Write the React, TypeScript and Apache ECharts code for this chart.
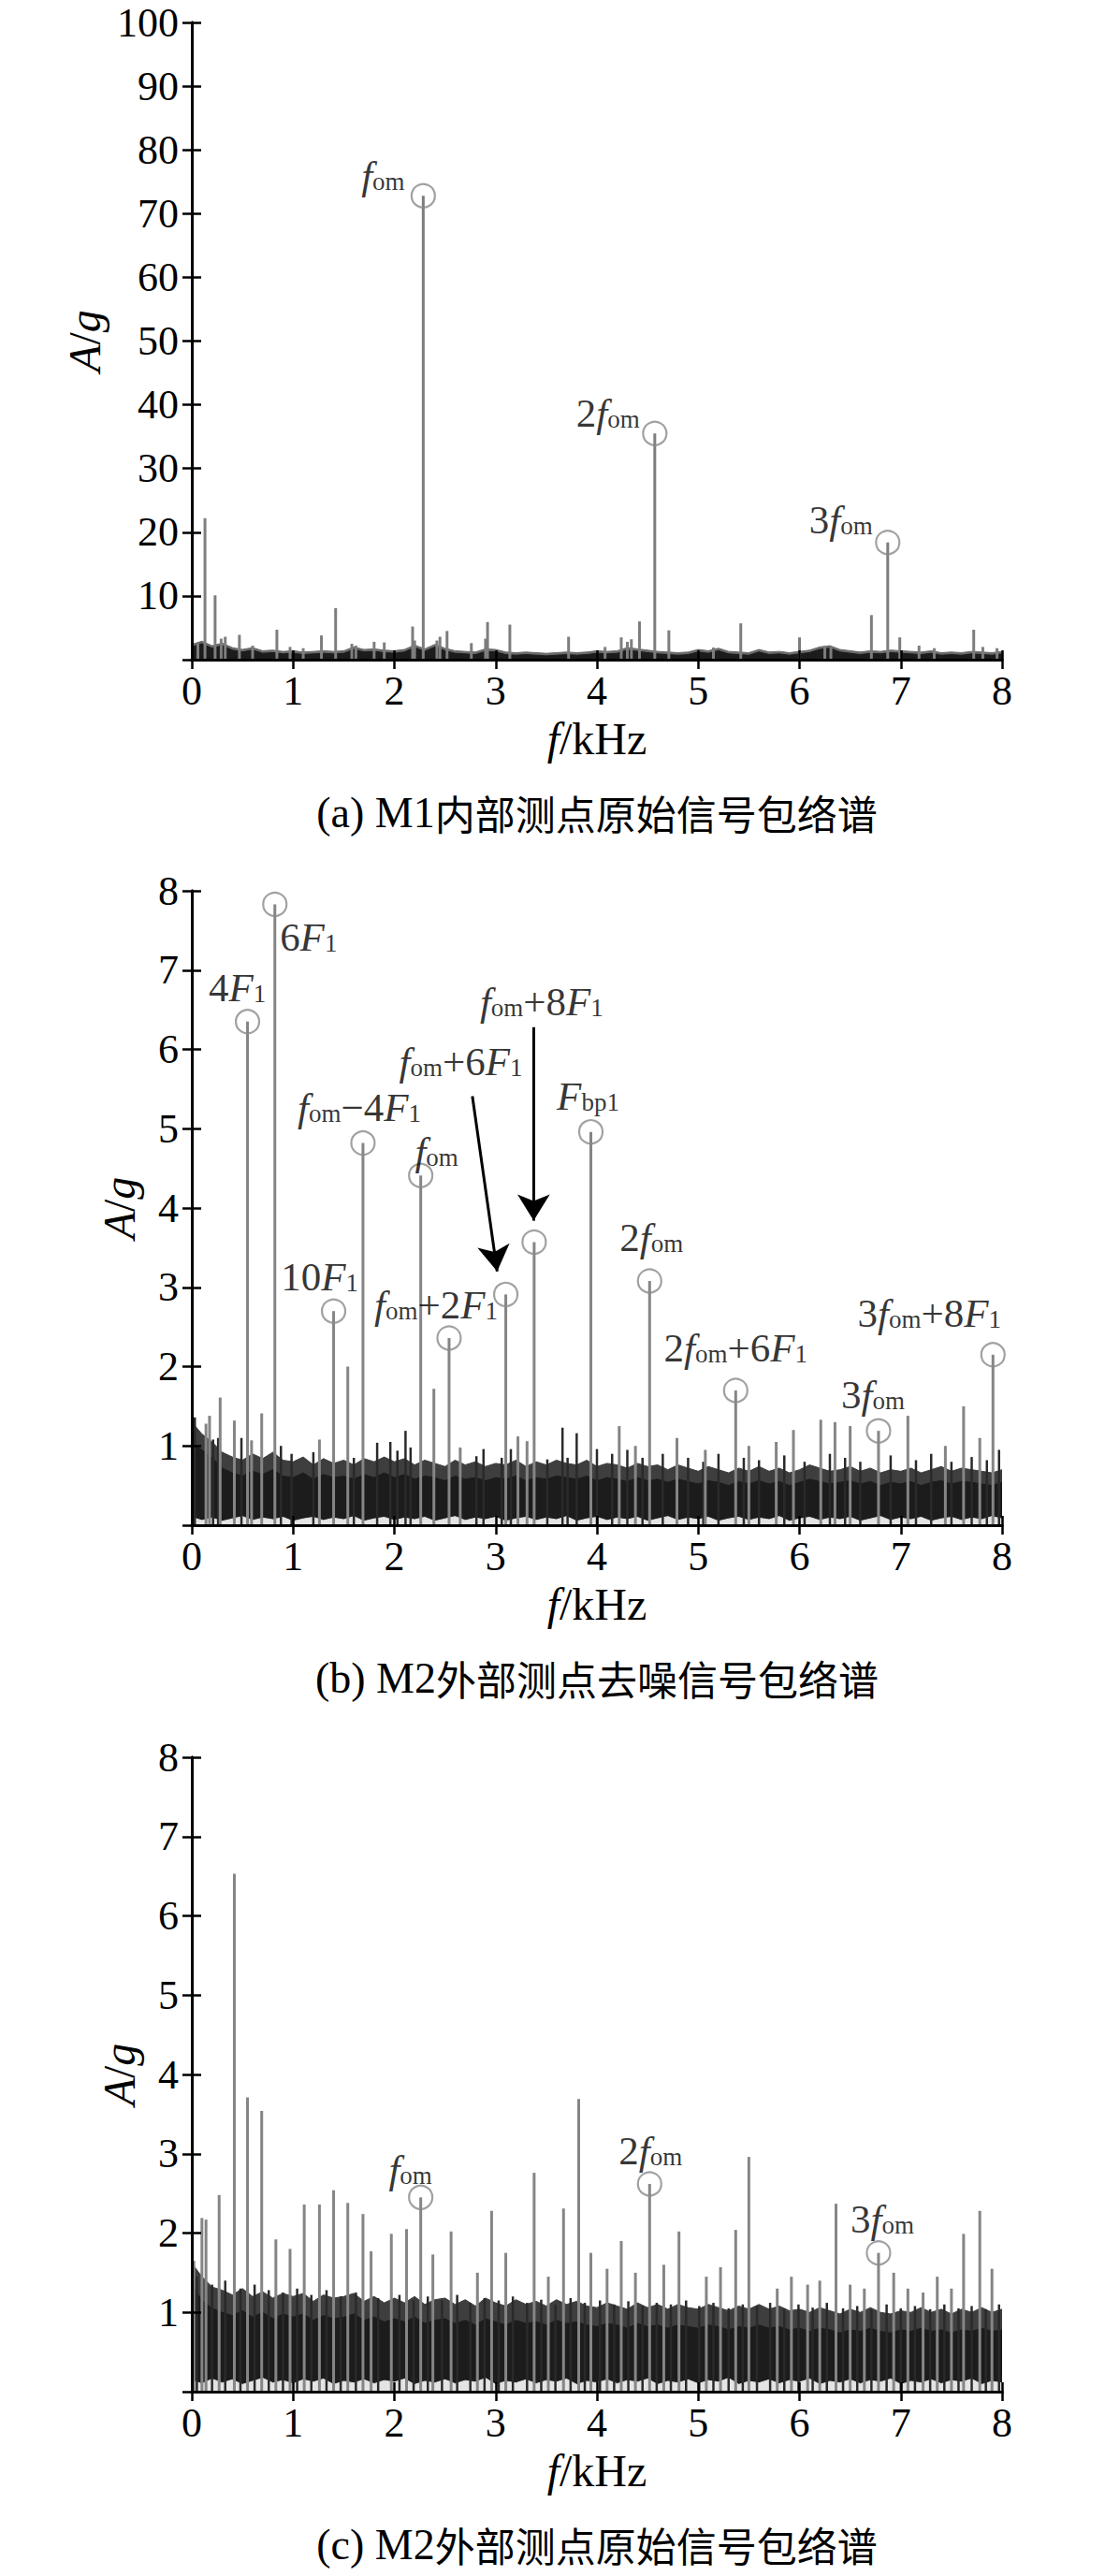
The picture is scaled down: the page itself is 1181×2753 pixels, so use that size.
import React, { useEffect, useRef } from "react";
import * as echarts from "echarts";

const SERIF = '"Liberation Serif", "Times New Roman", serif';
const CJK = '"Noto Sans CJK SC", sans-serif';

// envelope frequency grid (kHz)
const envX = [
  0, 0.1, 0.2, 0.3, 0.4, 0.5, 0.6, 0.7, 0.8, 0.9,
  1.0, 1.1, 1.2, 1.3, 1.4, 1.5, 1.6, 1.7, 1.8, 1.9,
  2.0, 2.1, 2.2, 2.3, 2.4, 2.5, 2.6, 2.7, 2.8, 2.9,
  3.0, 3.1, 3.2, 3.3, 3.4, 3.5, 3.6, 3.7, 3.8, 3.9,
  4.0, 4.1, 4.2, 4.3, 4.4, 4.5, 4.6, 4.7, 4.8, 4.9,
  5.0, 5.1, 5.2, 5.3, 5.4, 5.5, 5.6, 5.7, 5.8, 5.9,
  6.0, 6.1, 6.2, 6.3, 6.4, 6.5, 6.6, 6.7, 6.8, 6.9,
  7.0, 7.1, 7.2, 7.3, 7.4, 7.5, 7.6, 7.7, 7.8, 7.9, 8.0,
];

// ---------- (a) M1 internal, raw ----------
const aDarkTop = [
  2.0, 2.5, 1.8, 2.2, 1.5, 1.2, 1.5, 1.0, 1.1, 0.9,
  1.0, 0.8, 0.9, 1.0, 0.9, 1.0, 1.6, 1.2, 1.3, 1.1,
  1.0, 1.2, 1.9, 1.3, 2.0, 1.4, 1.0, 0.9, 0.8, 1.3,
  1.2, 0.8, 0.7, 0.8, 0.7, 0.6, 0.7, 0.8, 0.7, 0.8,
  1.0, 0.9, 1.0, 1.5, 1.3, 1.1, 0.9, 0.8, 0.7, 0.8,
  1.2, 1.0, 1.4, 0.9, 0.8, 0.7, 1.2, 0.8, 0.9, 0.7,
  0.9, 1.1, 1.6, 1.8, 1.2, 1.0, 0.8, 1.0, 0.9, 1.1,
  1.0, 0.9, 0.8, 1.0, 0.7, 0.8, 0.7, 0.9, 0.8, 0.7, 0.9,
];
const aGrayTop = [
  2.4, 2.9, 2.2, 2.6, 1.9, 1.6, 1.9, 1.4, 1.5, 1.3,
  1.4, 1.2, 1.3, 1.4, 1.3, 1.4, 2.0, 1.6, 1.7, 1.5,
  1.4, 1.6, 2.3, 1.7, 2.4, 1.8, 1.4, 1.3, 1.2, 1.7,
  1.6, 1.2, 1.1, 1.2, 1.1, 1.0, 1.1, 1.2, 1.1, 1.2,
  1.4, 1.3, 1.4, 1.9, 1.7, 1.5, 1.3, 1.2, 1.1, 1.2,
  1.6, 1.4, 1.8, 1.3, 1.2, 1.1, 1.6, 1.2, 1.3, 1.1,
  1.3, 1.5, 2.0, 2.2, 1.6, 1.4, 1.2, 1.4, 1.3, 1.5,
  1.4, 1.3, 1.2, 1.4, 1.1, 1.2, 1.1, 1.3, 1.2, 1.1, 1.3,
];
const aSpikeX = [
  0.06, 0.13, 0.23, 0.29, 0.33, 0.47, 0.6, 0.84, 0.97, 1.1,
  1.28, 1.42, 1.58, 1.62, 1.8, 1.9, 2.18, 2.2, 2.285, 2.42,
  2.45, 2.52, 2.76, 2.9, 2.92, 3.14, 3.72, 4.08, 4.24, 4.3,
  4.34, 4.42, 4.571, 4.71, 5.15, 5.42, 6.0, 6.25, 6.31, 6.71,
  6.871, 6.99, 7.18, 7.33, 7.72, 7.81, 7.95,
];
const aSpikeV = [
  2.5, 22.2, 10.1, 3.3, 3.6, 3.9, 2.2, 4.7, 2.0, 1.8,
  3.8, 8.1, 2.5, 2.2, 2.8, 2.7, 5.2, 3.0, 72.8, 3.0,
  3.6, 4.5, 2.6, 3.3, 5.9, 5.5, 3.6, 2.0, 3.5, 2.8,
  3.2, 6.0, 35.5, 4.6, 1.9, 5.7, 3.5, 2.2, 2.0, 7.0,
  18.4, 3.5, 2.2, 1.8, 4.7, 2.0, 1.8,
];
const aPeakX = [2.285, 4.571, 6.871];
const aPeakV = [72.8, 35.5, 18.4];
const aPeakLabel = ["{i|f}{s|om}", "{n|2}{i|f}{s|om}", "{n|3}{i|f}{s|om}"];

// ---------- (b) M2 external, denoised ----------
const bDarkTop = [
  1.02, 0.95, 0.85, 0.72, 0.66, 0.62, 0.68, 0.64, 0.70, 0.62,
  0.60, 0.66, 0.58, 0.64, 0.60, 0.62, 0.58, 0.64, 0.60, 0.66,
  0.60, 0.64, 0.58, 0.62, 0.60, 0.56, 0.62, 0.58, 0.60, 0.56,
  0.60, 0.58, 0.62, 0.56, 0.60, 0.58, 0.62, 0.60, 0.58, 0.62,
  0.56, 0.60, 0.58, 0.55, 0.60, 0.56, 0.58, 0.54, 0.58, 0.55,
  0.52, 0.56, 0.54, 0.50, 0.55, 0.52, 0.56, 0.52, 0.55, 0.50,
  0.54, 0.58, 0.55, 0.52, 0.54, 0.56, 0.52, 0.55, 0.50, 0.54,
  0.52, 0.55, 0.50, 0.54, 0.56, 0.52, 0.55, 0.54, 0.52, 0.50, 0.54,
];
const bGrayTop = [
  1.30, 1.15, 1.05, 0.92, 0.86, 0.82, 0.90, 0.84, 0.92, 0.82,
  0.80, 0.86, 0.76, 0.84, 0.78, 0.82, 0.76, 0.84, 0.80, 0.86,
  0.80, 0.84, 0.76, 0.82, 0.78, 0.74, 0.82, 0.76, 0.80, 0.74,
  0.78, 0.76, 0.82, 0.74, 0.80, 0.76, 0.82, 0.78, 0.76, 0.82,
  0.74, 0.78, 0.76, 0.72, 0.78, 0.74, 0.76, 0.70, 0.76, 0.72,
  0.68, 0.74, 0.70, 0.66, 0.72, 0.68, 0.74, 0.68, 0.72, 0.66,
  0.70, 0.76, 0.72, 0.68, 0.70, 0.74, 0.68, 0.72, 0.66, 0.70,
  0.68, 0.72, 0.66, 0.70, 0.74, 0.68, 0.72, 0.70, 0.68, 0.66, 0.70,
];
const bLow = [
  0.10, 0.06, 0.09, 0.05, 0.08, 0.11, 0.06, 0.09, 0.07, 0.10,
  0.05, 0.08, 0.10, 0.06, 0.09, 0.07, 0.11, 0.05, 0.08, 0.10,
  0.06, 0.09, 0.07, 0.10, 0.05, 0.08, 0.11, 0.06, 0.09, 0.07,
  0.10, 0.05, 0.08, 0.10, 0.06, 0.09, 0.07, 0.11, 0.05, 0.08,
  0.10, 0.06, 0.09, 0.07, 0.10, 0.05, 0.08, 0.11, 0.06, 0.09,
  0.07, 0.10, 0.05, 0.08, 0.10, 0.06, 0.09, 0.07, 0.11, 0.05,
  0.08, 0.10, 0.06, 0.09, 0.07, 0.10, 0.05, 0.08, 0.11, 0.06,
  0.09, 0.07, 0.10, 0.05, 0.08, 0.10, 0.06, 0.09, 0.07, 0.11, 0.08,
];
const bSpikeX = [
  0.14, 0.175, 0.28, 0.42, 0.55, 0.59, 0.69, 0.82, 1.26, 1.40,
  1.54, 1.69, 2.26, 2.39, 2.54, 2.65, 3.10, 3.22, 3.31, 3.38,
  3.94, 4.22, 4.38, 4.52, 4.79, 5.07, 5.37, 5.50, 5.77, 5.94,
  6.21, 6.35, 6.50, 6.78, 7.07, 7.44, 7.62, 7.78, 7.91,
];
const bSpikeV = [
  1.28, 1.38, 1.61, 1.32, 6.35, 1.07, 1.41, 7.83, 1.08, 2.70,
  2.00, 4.82, 4.41, 1.72, 2.36, 0.98, 2.91, 1.12, 1.06, 3.57,
  4.96, 1.25, 1.00, 3.08, 1.10, 0.95, 1.70, 1.00, 1.05, 1.20,
  1.33, 1.30, 1.25, 1.19, 1.38, 1.00, 1.50, 1.10, 2.15,
];
const bDarkSpikeX = [
  0.03, 0.21, 0.26, 0.49, 0.88, 0.985, 1.2, 1.6, 1.83, 1.96,
  2.03, 2.11, 2.16, 2.81, 2.88, 3.06, 3.15, 3.51, 3.66, 3.71,
  3.80, 4.0, 4.15, 4.3, 4.45, 4.65, 4.9, 5.05, 5.2, 5.45,
  5.6, 5.85, 6.05, 6.3, 6.45, 6.6, 6.9, 7.15, 7.3, 7.5,
  7.7, 7.85, 7.97,
];
const bDarkSpikeV = [
  1.36, 1.08, 1.10, 1.10, 1.00, 0.90, 0.92, 0.85, 1.04, 1.05,
  0.94, 1.19, 0.98, 0.87, 0.96, 0.85, 0.96, 0.83, 1.23, 0.85,
  1.16, 0.96, 0.90, 0.95, 0.85, 0.90, 0.85, 0.80, 0.90, 0.85,
  0.82, 0.88, 0.80, 0.90, 0.85, 0.80, 0.88, 0.82, 0.90, 0.80,
  0.86, 0.82, 0.95,
];
const bPeakX = [0.55, 0.82, 1.40, 1.69, 2.26, 2.54, 3.10, 3.38, 3.94, 4.52, 5.37, 6.78, 7.91];
const bPeakV = [6.35, 7.83, 2.70, 4.82, 4.41, 2.36, 2.91, 3.57, 4.96, 3.08, 1.70, 1.19, 2.15];
const bPeakLabel = [
  "{n|4}{i|F}{s|1}",
  "{n|6}{i|F}{s|1}",
  "{n|10}{i|F}{s|1}",
  "{i|f}{s|om}{n|−4}{i|F}{s|1}",
  "{i|f}{s|om}",
  "{i|f}{s|om}{n|+2}{i|F}{s|1}",
  "{i|f}{s|om}{n|+6}{i|F}{s|1}",
  "{i|f}{s|om}{n|+8}{i|F}{s|1}",
  "{i|F}{s|bp1}",
  "{n|2}{i|f}{s|om}",
  "{n|2}{i|f}{s|om}{n|+6}{i|F}{s|1}",
  "{n|3}{i|f}{s|om}",
  "{n|3}{i|f}{s|om}{n|+8}{i|F}{s|1}",
];
// arrows: [start x, start y, end x, end y]
const bArrows = [
  [2.77, 5.41, 3.015, 3.2],
  [3.375, 6.28, 3.375, 3.84],
];

// ---------- (c) M2 external, raw ----------
const cDarkTop = [
  1.35, 1.15, 1.05, 1.00, 0.96, 1.02, 0.94, 1.00, 0.92, 0.98,
  0.94, 0.98, 0.90, 0.96, 0.92, 0.94, 0.98, 0.90, 0.94, 0.88,
  0.92, 0.88, 0.94, 0.86, 0.90, 0.92, 0.86, 0.90, 0.84, 0.92,
  0.88, 0.84, 0.90, 0.86, 0.88, 0.84, 0.90, 0.86, 0.88, 0.84,
  0.82, 0.86, 0.84, 0.80, 0.86, 0.82, 0.84, 0.80, 0.84, 0.82,
  0.80, 0.84, 0.82, 0.78, 0.82, 0.80, 0.84, 0.80, 0.82, 0.78,
  0.80, 0.76, 0.80, 0.78, 0.74, 0.78, 0.76, 0.80, 0.76, 0.74,
  0.78, 0.76, 0.80, 0.76, 0.78, 0.74, 0.78, 0.76, 0.80, 0.76, 0.78,
];
const cGrayTop = [
  1.62, 1.45, 1.32, 1.28, 1.22, 1.30, 1.20, 1.26, 1.18, 1.24,
  1.20, 1.24, 1.14, 1.22, 1.18, 1.20, 1.24, 1.14, 1.20, 1.12,
  1.18, 1.12, 1.20, 1.10, 1.16, 1.18, 1.10, 1.16, 1.08, 1.18,
  1.12, 1.08, 1.16, 1.10, 1.14, 1.08, 1.16, 1.10, 1.14, 1.08,
  1.06, 1.12, 1.08, 1.04, 1.12, 1.06, 1.10, 1.04, 1.10, 1.06,
  1.04, 1.10, 1.06, 1.02, 1.08, 1.04, 1.10, 1.04, 1.08, 1.02,
  1.04, 1.00, 1.06, 1.02, 0.98, 1.04, 1.00, 1.06, 1.00, 0.98,
  1.02, 1.00, 1.06, 1.00, 1.04, 0.98, 1.04, 1.00, 1.06, 1.00, 1.04,
];
const cLow = [
  0.14, 0.10, 0.16, 0.11, 0.15, 0.09, 0.13, 0.17, 0.11, 0.14,
  0.10, 0.15, 0.12, 0.16, 0.09, 0.13, 0.11, 0.15, 0.10, 0.14,
  0.12, 0.16, 0.09, 0.13, 0.11, 0.15, 0.10, 0.14, 0.12, 0.17,
  0.09, 0.13, 0.11, 0.15, 0.10, 0.14, 0.12, 0.16, 0.09, 0.13,
  0.11, 0.15, 0.10, 0.14, 0.12, 0.16, 0.09, 0.13, 0.11, 0.15,
  0.10, 0.14, 0.12, 0.17, 0.09, 0.13, 0.11, 0.15, 0.10, 0.14,
  0.12, 0.16, 0.09, 0.13, 0.11, 0.15, 0.10, 0.14, 0.12, 0.16,
  0.09, 0.13, 0.11, 0.15, 0.10, 0.14, 0.12, 0.16, 0.09, 0.13, 0.11,
];
const cSpikeX = [
  0.02, 0.10, 0.14, 0.27, 0.42, 0.55, 0.69, 0.83, 0.97, 1.11,
  1.26, 1.40, 1.54, 1.69, 1.77, 1.97, 2.12, 2.26, 2.38, 2.56,
  2.82, 2.96, 3.10, 3.38, 3.52, 3.67, 3.82, 3.94, 4.10, 4.24,
  4.38, 4.52, 4.66, 4.81, 5.08, 5.22, 5.37, 5.50, 5.78, 5.92,
  6.08, 6.20, 6.36, 6.50, 6.64, 6.78, 6.93, 7.07, 7.22, 7.36,
  7.50, 7.62, 7.78, 7.90,
];
const cSpikeV = [
  1.65, 2.19, 2.17, 2.48, 6.53, 3.71, 3.54, 1.92, 1.80, 2.36,
  2.36, 2.54, 2.38, 2.24, 1.77, 1.99, 2.05, 2.45, 1.73, 2.02,
  1.50, 2.28, 1.75, 2.76, 1.45, 2.31, 3.69, 1.75, 1.55, 1.90,
  1.50, 2.62, 1.60, 2.02, 1.45, 1.57, 2.04, 2.96, 1.30, 1.45,
  1.35, 1.40, 2.37, 1.35, 1.30, 1.75, 1.50, 1.30, 1.25, 1.45,
  1.30, 1.99, 2.28, 1.55,
];
const cDarkSpikeX = [
  0.05, 0.2, 0.33, 0.48, 0.62, 0.76, 0.9, 1.04, 1.18, 1.33,
  1.47, 1.62, 1.84, 2.05, 2.19, 2.33, 2.47, 2.62, 2.75, 2.89,
  3.03, 3.17, 3.31, 3.45, 3.59, 3.74, 3.88, 4.03, 4.17, 4.31,
  4.45, 4.59, 4.73, 4.88, 5.01, 5.15, 5.3, 5.44, 5.58, 5.71,
  5.85, 5.99, 6.13, 6.27, 6.43, 6.57, 6.71, 6.86, 7.0, 7.14,
  7.29, 7.43, 7.57, 7.7, 7.84, 7.97,
];
const cDarkSpikeV = [
  1.45, 1.35, 1.40, 1.30, 1.35, 1.28, 1.25, 1.30, 1.22, 1.28,
  1.20, 1.25, 1.18, 1.22, 1.15, 1.20, 1.15, 1.22, 1.12, 1.18,
  1.15, 1.20, 1.12, 1.16, 1.10, 1.18, 1.12, 1.15, 1.10, 1.14,
  1.08, 1.12, 1.10, 1.15, 1.08, 1.12, 1.05, 1.10, 1.08, 1.12,
  1.05, 1.10, 1.06, 1.12, 1.05, 1.08, 1.04, 1.10, 1.05, 1.08,
  1.04, 1.10, 1.05, 1.08, 1.04, 1.10,
];
const cPeakX = [2.26, 4.52, 6.78];
const cPeakV = [2.45, 2.62, 1.75];
const cPeakLabel = ["{i|f}{s|om}", "{n|2}{i|f}{s|om}", "{n|3}{i|f}{s|om}"];

const xTicks = [0, 1, 2, 3, 4, 5, 6, 7, 8];
const captions = [
  ["(a) M1", "内部测点原始信号包络谱"],
  ["(b) M2", "外部测点去噪信号包络谱"],
  ["(c) M2", "外部测点原始信号包络谱"],
];

// ---------- layout (pixels) ----------
const PLOT_LEFT = 205;
const PLOT_WIDTH = 866;
const PANELS = [
  { top: 24, height: 681, yMax: 100, yInt: 10, nameGap: 78, caption: 868 },
  { top: 952, height: 678, yMax: 8, yInt: 1, nameGap: 54, caption: 1793 },
  { top: 1878, height: 678, yMax: 8, yInt: 1, nameGap: 54, caption: 2719 },
];
const aOffsets = [[-43, -22], [-50, -22], [-50, -24]];
const bOffsets = [
  [-11, -36], [36, 35], [-15, -37], [-4, -38], [17, -26], [-14, -35],
  [-48, -249], [8, -257], [-3, -38], [2, -46], [0, -45], [-6, -39], [-68, -44],
];
const cOffsets = [[-11, -30], [1, -35], [4, -36]];

const annRich = {
  i: { fontFamily: SERIF, fontStyle: "italic", fontSize: 43, lineHeight: 40, color: "#000" },
  n: { fontFamily: SERIF, fontSize: 43, lineHeight: 40, color: "#000" },
  s: { fontFamily: SERIF, fontSize: 27, lineHeight: 27, verticalAlign: "bottom", color: "#000" },
};

const pairs = (xs: number[], ys: number[]) => xs.map((x, i) => [x, ys[i]]);

function areaSeries(g: number, ys: number[], color: string) {
  return {
    type: "line",
    xAxisIndex: 2 * g,
    yAxisIndex: 2 * g,
    data: pairs(envX, ys),
    symbol: "none",
    silent: true,
    lineStyle: { color, width: 1 },
    areaStyle: { color, opacity: 1 },
    z: 2,
  };
}

function spikeSeries(g: number, xs: number[], vs: number[], color: string, width: number) {
  return {
    type: "custom",
    xAxisIndex: 2 * g,
    yAxisIndex: 2 * g,
    data: pairs(xs, vs),
    encode: { x: 0, y: 1 },
    silent: true,
    clip: true,
    z: 3,
    renderItem: (_params: any, api: any) => {
      const x = api.value(0);
      const p0 = api.coord([x, 0]);
      const p1 = api.coord([x, api.value(1)]);
      return {
        type: "line",
        shape: { x1: p0[0], y1: p0[1], x2: p1[0], y2: p1[1] },
        style: { stroke: color, lineWidth: width },
      };
    },
  };
}

function peakSeries(g: number, xs: number[], vs: number[], labels: string[], offs: number[][], extra: any = {}) {
  return {
    type: "scatter",
    xAxisIndex: 2 * g,
    yAxisIndex: 2 * g,
    symbol: "circle",
    symbolSize: 25,
    silent: true,
    itemStyle: { color: "rgba(0,0,0,0)", borderColor: "#8a8a8a", borderWidth: 2.2 },
    data: xs.map((x, i) => ({
      value: [x, vs[i]],
      label: {
        show: true,
        position: "inside",
        offset: offs[i],
        formatter: labels[i],
        rich: annRich,
        align: "center",
        verticalAlign: "middle",
      },
    })),
    z: 5,
    ...extra,
  };
}

export default function App() {
  const ref = useRef<HTMLDivElement>(null);
  useEffect(() => {
    if (!ref.current) return;
    const chart = echarts.init(ref.current, undefined, { renderer: "svg" });

    const grid = PANELS.map((p) => ({ left: PLOT_LEFT, width: PLOT_WIDTH, top: p.top, height: p.height }));
    const axisLine = { show: true, lineStyle: { color: "#000", width: 3 } };
    const axisTick = { show: true, inside: true, length: 10, lineStyle: { color: "#000", width: 2.5 } };
    const nameRich = {
      i: { fontFamily: SERIF, fontStyle: "italic", fontSize: 48, color: "#000" },
      n: { fontFamily: SERIF, fontSize: 48, color: "#000" },
    };

    const xAxis: any[] = [];
    const yAxis: any[] = [];
    PANELS.forEach((p, g) => {
      xAxis.push({
        type: "value", gridIndex: g, min: xTicks[0], max: xTicks[xTicks.length - 1], interval: 1,
        position: "bottom", z: 10, axisLine, axisTick, splitLine: { show: false },
        axisLabel: { color: "#000", fontFamily: SERIF, fontSize: 44, margin: 11 },
        name: "{i|f}{n|/kHz}", nameLocation: "middle", nameGap: 60,
        nameTextStyle: { rich: nameRich },
      });
      xAxis.push({
        type: "value", gridIndex: g, min: xTicks[0], max: xTicks[xTicks.length - 1], interval: 1,
        position: "top", z: 10, axisLine, axisTick, splitLine: { show: false }, axisLabel: { show: false },
      });
      yAxis.push({
        type: "value", gridIndex: g, min: 0, max: p.yMax, interval: p.yInt,
        position: "left", z: 10, axisLine, axisTick, splitLine: { show: false },
        axisLabel: {
          color: "#000", fontFamily: SERIF, fontSize: 44, margin: 14,
          formatter: (v: number) => (v === 0 ? "" : String(v)),
        },
        name: "{i|A}{n|/}{i|g}", nameLocation: "middle", nameGap: p.nameGap,
        nameTextStyle: { rich: nameRich },
      });
      yAxis.push({
        type: "value", gridIndex: g, min: 0, max: p.yMax, interval: p.yInt,
        position: "right", z: 10, axisLine, axisTick, splitLine: { show: false }, axisLabel: { show: false },
      });
    });

    const series: any[] = [
      areaSeries(0, aGrayTop, "#6a6a6a"),
      areaSeries(0, aDarkTop, "#1c1c1c"),
      spikeSeries(0, aSpikeX, aSpikeV, "#7d7d7d", 3),
      peakSeries(0, aPeakX, aPeakV, aPeakLabel, aOffsets),

      areaSeries(1, bGrayTop, "#3e3e3e"),
      areaSeries(1, bDarkTop, "#1c1c1c"),
      areaSeries(1, bLow, "#e4e4e4"),
      spikeSeries(1, bDarkSpikeX, bDarkSpikeV, "#2a2a2a", 2.5),
      spikeSeries(1, bSpikeX, bSpikeV, "#858585", 3),
      peakSeries(1, bPeakX, bPeakV, bPeakLabel, bOffsets, {
        markLine: {
          silent: true,
          symbol: ["none", "arrow"],
          symbolSize: [26, 28],
          lineStyle: { color: "#000", width: 3, type: "solid" },
          label: { show: false },
          animation: false,
          data: bArrows.map((a) => [{ coord: [a[0], a[1]] }, { coord: [a[2], a[3]] }]),
        },
      }),

      areaSeries(2, cGrayTop, "#3e3e3e"),
      areaSeries(2, cDarkTop, "#1c1c1c"),
      areaSeries(2, cLow, "#e4e4e4"),
      spikeSeries(2, cDarkSpikeX, cDarkSpikeV, "#2a2a2a", 2.5),
      spikeSeries(2, cSpikeX, cSpikeV, "#858585", 3),
      peakSeries(2, cPeakX, cPeakV, cPeakLabel, cOffsets),
    ];

    const graphic = PANELS.map((p, g) => ({
      type: "text",
      x: PLOT_LEFT + PLOT_WIDTH / 2,
      y: p.caption,
      silent: true,
      style: {
        text: `{l|${captions[g][0]}}{c|${captions[g][1]}}`,
        align: "center",
        verticalAlign: "middle",
        rich: {
          l: { fontFamily: SERIF, fontSize: 46, fill: "#000", color: "#000" },
          c: { fontFamily: CJK, fontSize: 43, fill: "#000", color: "#000" },
        },
      },
    }));

    chart.setOption({
      animation: false,
      backgroundColor: "#fff",
      grid,
      xAxis,
      yAxis,
      series,
      graphic,
    });
    return () => chart.dispose();
  }, []);

  return (
    <div
      ref={ref}
      style={{ position: "absolute", left: 0, top: 0, width: 1181, height: 2753, background: "#fff" }}
    />
  );
}
